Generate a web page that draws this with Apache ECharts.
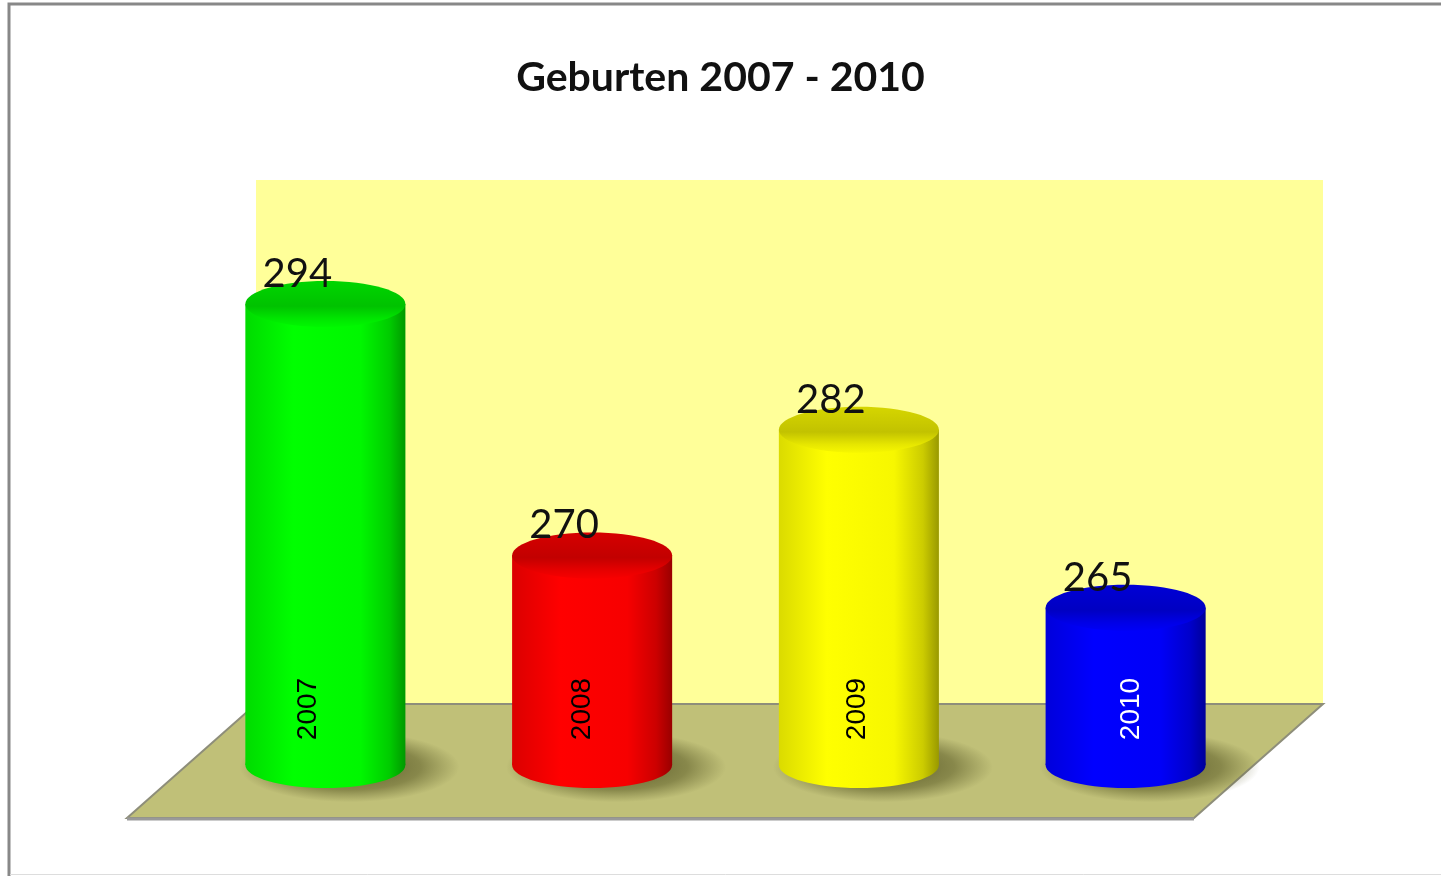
<!DOCTYPE html>
<html>
<head>
<meta charset="utf-8">
<title>Geburten 2007 - 2010</title>
<script src="https://cdn.jsdelivr.net/npm/echarts@6/dist/echarts.min.js"></script>
<style>
  html, body { margin: 0; padding: 0; background: #fff; }
  #main { width: 1441px; height: 876px; }
</style>
</head>
<body>
<div id="main"></div>
<script>
// Daten
const years = ['2007', '2008', '2009', '2010'];
const births = [294, 270, 282, 265];

// Farben je Säule
const barColors = ['#00ff00', '#ff0000', '#ffff00', '#0000ff'];
const yearTextColors = ['#000000', '#000000', '#000000', '#ffffff'];

const yMin = 250;
const yMax = 300;

// 3D-Versatz: Rückwand / Vorderkante relativ zur Säulenebene
const BACK = [64, -61];
const FRONT = [-65, 53];

function shade(hex, f) {
    const n = parseInt(hex.slice(1), 16);
    const r = Math.round(((n >> 16) & 255) * f);
    const g = Math.round(((n >> 8) & 255) * f);
    const b = Math.round((n & 255) * f);
    return 'rgb(' + r + ',' + g + ',' + b + ')';
}

// Rückwand und Boden
function renderScene(params) {
    const cs = params.coordSys;
    const x0 = cs.x, x1 = cs.x + cs.width;
    const y0 = cs.y, y1 = cs.y + cs.height;
    return {
        type: 'group',
        children: [
            {
                type: 'rect',
                shape: { x: x0 + BACK[0], y: y0 + BACK[1], width: x1 - x0, height: y1 - y0 },
                style: { fill: '#ffff99' }
            },
            {
                type: 'polygon',
                shape: {
                    points: [
                        [x0 + BACK[0], y1 + BACK[1]],
                        [x1 + BACK[0], y1 + BACK[1]],
                        [x1 + FRONT[0], y1 + FRONT[1]],
                        [x0 + FRONT[0], y1 + FRONT[1]]
                    ]
                },
                style: { fill: '#c0c078', stroke: '#8e8e7a', lineWidth: 2 }
            },
            {
                type: 'line',
                shape: { x1: x0 + FRONT[0], y1: y1 + FRONT[1] + 1, x2: x1 + FRONT[0], y2: y1 + FRONT[1] + 1 },
                style: { stroke: '#999999', lineWidth: 3 }
            }
        ]
    };
}

// Zylinder
function renderCylinder(params, api) {
    const i = api.value(0);
    const v = api.value(1);
    const top = api.coord([i, v]);
    const base = api.coord([i, yMin]);
    const w = api.size([1, 0])[0] * 0.6;
    const rx = w / 2;
    const ry = 23;
    const col = barColors[i];

    const bodyFill = new echarts.graphic.LinearGradient(0, 0, 1, 0, [
        { offset: 0, color: shade(col, 0.86) },
        { offset: 0.3, color: col },
        { offset: 0.72, color: shade(col, 0.97) },
        { offset: 0.9, color: shade(col, 0.8) },
        { offset: 1, color: shade(col, 0.6) }
    ]);
    const topFill = new echarts.graphic.LinearGradient(0, 0, 0, 1, [
        { offset: 0, color: shade(col, 0.84) },
        { offset: 0.55, color: shade(col, 0.76) },
        { offset: 0.82, color: shade(col, 0.9) },
        { offset: 1, color: shade(col, 0.97) }
    ]);
    const shadowFill = new echarts.graphic.RadialGradient(0.5, 0.5, 0.5, [
        { offset: 0, color: 'rgba(70,70,25,0.85)' },
        { offset: 0.65, color: 'rgba(80,80,30,0.5)' },
        { offset: 1, color: 'rgba(90,90,40,0)' }
    ]);
    const sx = base[0] + 24, sy = base[1] + 2;

    return {
        type: 'group',
        children: [
            {
                type: 'circle',
                shape: { cx: sx, cy: sy, r: rx + 30 },
                originX: sx, originY: sy, scaleY: 0.32,
                style: { fill: shadowFill }
            },
            {
                type: 'ellipse',
                shape: { cx: base[0], cy: base[1], rx: rx, ry: ry },
                style: { fill: bodyFill }
            },
            {
                type: 'rect',
                shape: { x: base[0] - rx, y: top[1], width: w, height: base[1] - top[1] },
                style: { fill: bodyFill }
            },
            {
                type: 'ellipse',
                shape: { cx: top[0], cy: top[1], rx: rx, ry: ry },
                style: { fill: topFill }
            },
            {
                type: 'text',
                x: top[0] - 28,
                y: top[1] - ry + 13,
                style: {
                    text: String(v),
                    font: '40px Lato',
                    fill: '#111111',
                    align: 'center',
                    verticalAlign: 'bottom'
                }
            },
            {
                type: 'text',
                x: base[0] - 17 + i * 7.6,
                y: base[1] - 56,
                rotation: Math.PI / 2,
                style: {
                    text: years[i],
                    font: '28px "Liberation Sans"',
                    fill: yearTextColors[i],
                    align: 'center',
                    verticalAlign: 'middle'
                }
            }
        ]
    };
}

const chart = echarts.init(document.getElementById('main'), null, { renderer: 'canvas' });

const option = {
    backgroundColor: '#ffffff',
    animation: false,
    title: {
        text: 'Geburten 2007 - 2010',
        left: 'center',
        top: 57,
        padding: 0,
        textStyle: { fontFamily: 'Lato', fontWeight: 'bold', fontSize: 41, color: '#111111' }
    },
    graphic: [
        {
            type: 'polyline',
            shape: { points: [[9, 876], [9, 4], [1441, 4]] },
            style: { stroke: '#888888', lineWidth: 3, fill: null },
            silent: true
        },
        {
            type: 'line',
            shape: { x1: 10, y1: 874.5, x2: 1441, y2: 874.5 },
            style: { stroke: '#dddddd', lineWidth: 1 },
            silent: true
        }
    ],
    grid: { left: 192, width: 1067, top: 241, height: 524 },
    xAxis: {
        type: 'category',
        data: years,
        show: false
    },
    yAxis: {
        type: 'value',
        min: yMin,
        max: yMax,
        show: false
    },
    series: [
        {
            type: 'custom',
            silent: true,
            clip: false,
            z: 1,
            renderItem: renderScene,
            data: [[0, yMin]]
        },
        {
            type: 'custom',
            clip: false,
            z: 2,
            renderItem: renderCylinder,
            data: births.map((b, i) => [i, b])
        }
    ]
};

chart.setOption(option);
</script>
</body>
</html>
